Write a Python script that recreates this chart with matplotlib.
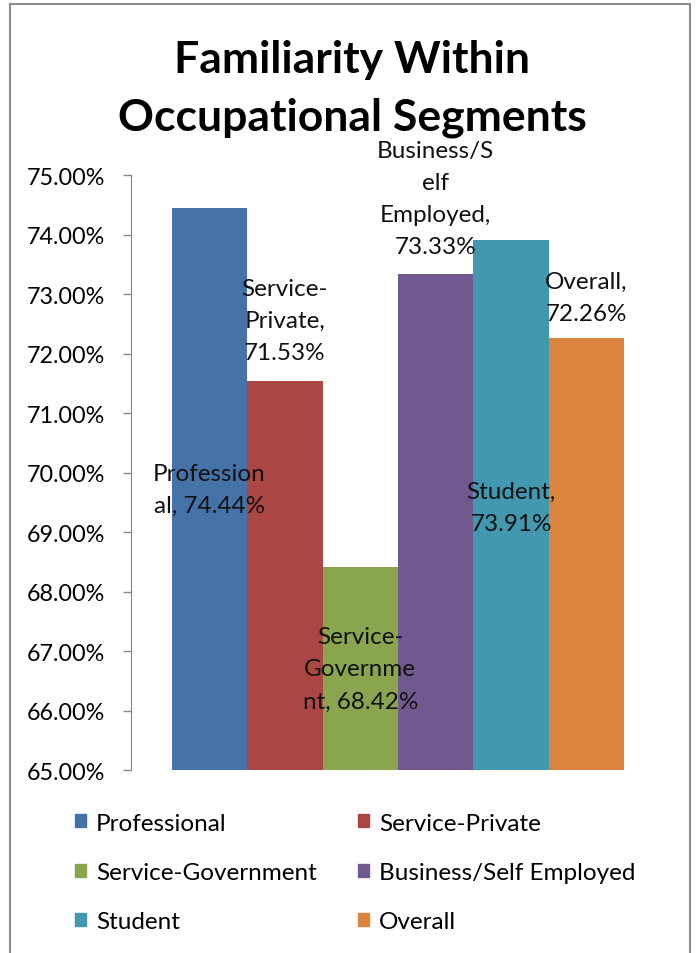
import matplotlib.pyplot as plt
from matplotlib.patches import Patch, Rectangle
from matplotlib.ticker import FuncFormatter

plt.rcParams['font.family'] = ['Lato', 'DejaVu Sans']

# occupational segments and familiarity share (%)
segments = ["Professional", "Service-Private", "Service-Government",
            "Business/Self Employed", "Student", "Overall"]
familiarity = [74.44, 71.53, 68.42, 73.33, 73.91, 72.26]
colors = ["#4572A7", "#AA4643", "#89A54E", "#71588F", "#4198AF", "#DB843D"]

# data label text, wrapped the way the sheet wrapped it
label_names = ["Profession\nal,", "Service-\nPrivate,\n", "Service-\nGovernme\nnt,",
               "Business/S\nelf\nEmployed,\n", "Student,\n", "Overall,\n"]
label_y = [69.71, 72.55, 66.70, 74.60, 69.42, 72.95]


def main():
    fig = plt.figure(figsize=(6.97, 9.54), dpi=100)
    ax = fig.add_axes([0.188, 0.1918, 0.766, 0.6237])

    xs = list(range(len(segments)))
    for i in xs:
        ax.bar(i, familiarity[i] - 65, bottom=65, width=1.0, color=colors[i], label=segments[i])
        txt = label_names[i]
        sep = "" if txt.endswith("\n") else " "
        ax.text(i, label_y[i], "{}{}{:.2f}%".format(txt, sep, familiarity[i]),
                ha="center", va="center", fontsize=17.5, linespacing=1.65, color="#111111")

    ax.set_xlim(-1.04, 6.04)
    ax.set_ylim(65, 75)
    ax.set_yticks([65 + k for k in range(11)])
    ax.yaxis.set_major_formatter(FuncFormatter(lambda v, p: "{:.2f}%".format(v)))
    ax.tick_params(axis="y", direction="out", length=6, width=1, color="#868686",
                   labelsize=16.8, pad=13)
    ax.set_xticks([])
    for s in ["top", "right", "bottom"]:
        ax.spines[s].set_visible(False)
    ax.spines["left"].set_color("#868686")

    fig.text(0.505, 0.907, "Familiarity Within\nOccupational Segments", ha="center",
             va="center", fontsize=32, fontweight="bold", linespacing=1.52)

    # chart frame
    fig.patches.append(Rectangle((10 / 697, -0.05), 680 / 697, 1.0 - 5 / 954 + 0.05,
                                 transform=fig.transFigure, fill=False,
                                 edgecolor="#8c8c8c", linewidth=1.5))

    order = [0, 2, 4, 1, 3, 5]
    handles = [Patch(color=colors[k], label=segments[k]) for k in order]
    fig.legend(handles=handles, ncol=2, loc="upper left", bbox_to_anchor=(0.090, 0.160),
               frameon=False, fontsize=17.5, handlelength=0.45, handleheight=0.45,
               handletextpad=0.41, labelspacing=1.17, columnspacing=1.7, borderpad=0)

    fig.savefig("out.png", dpi=100)


if __name__ == "__main__":
    main()
